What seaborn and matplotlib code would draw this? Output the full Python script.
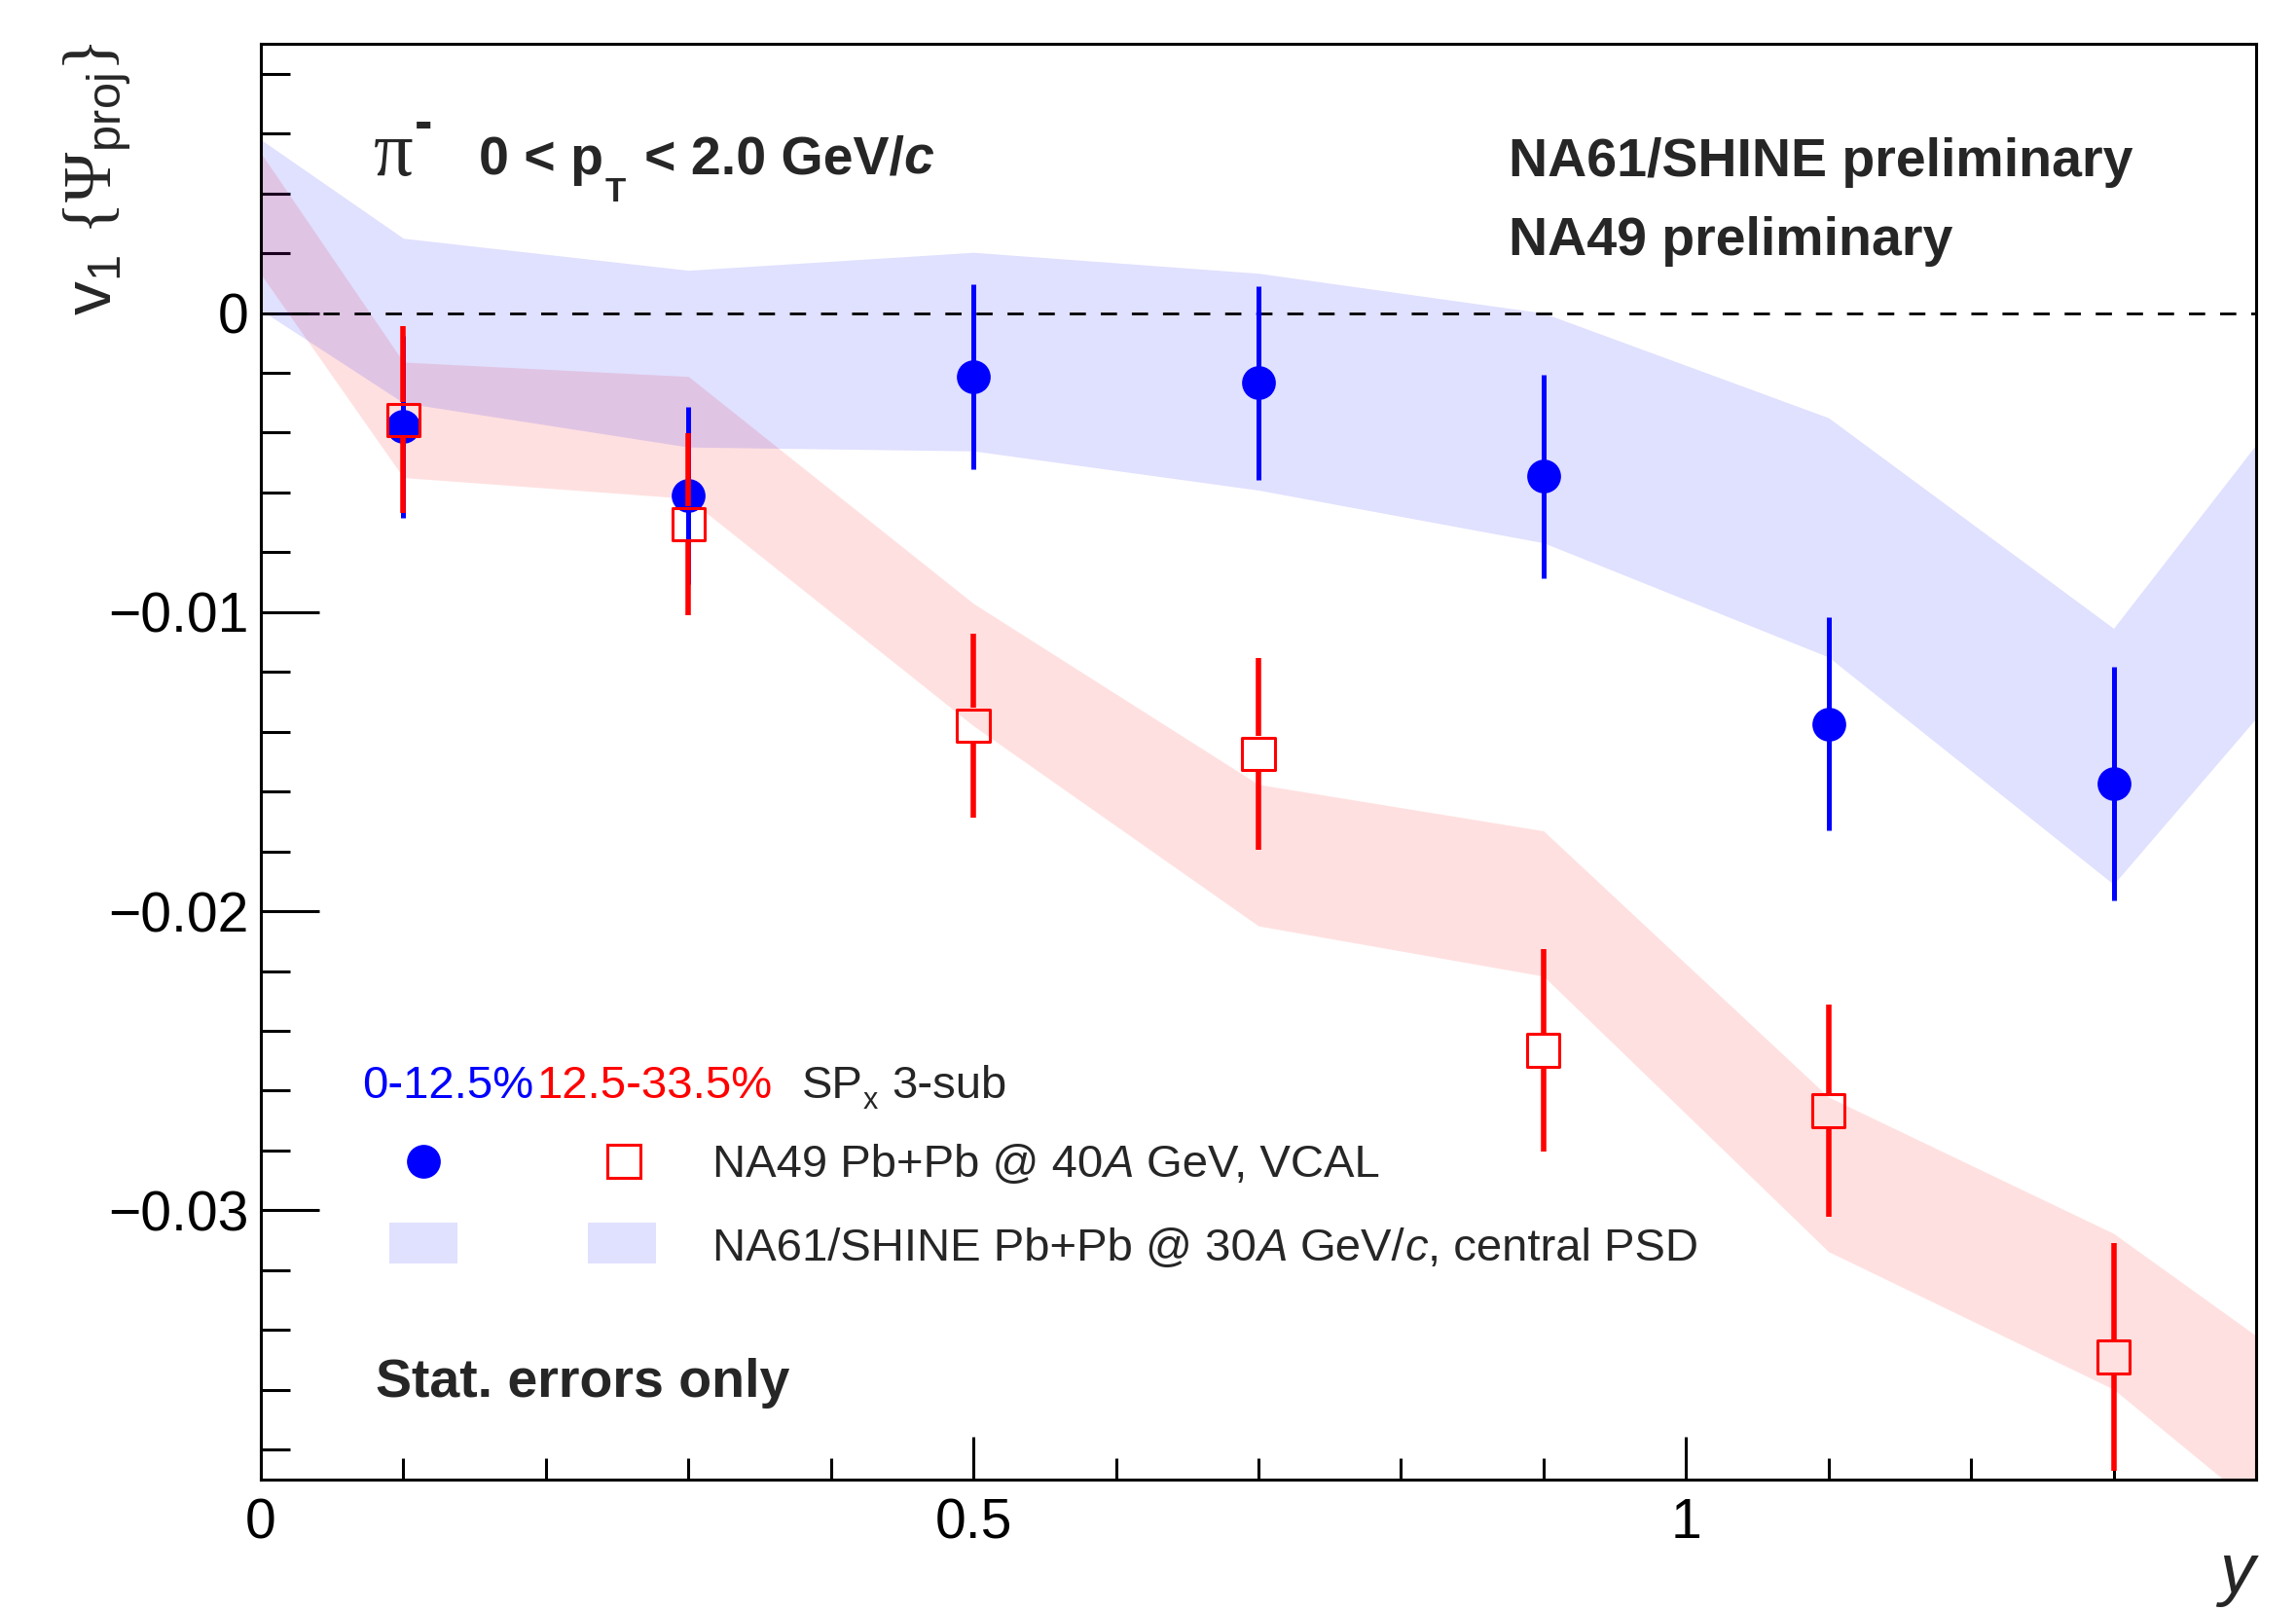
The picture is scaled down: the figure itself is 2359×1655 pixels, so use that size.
import numpy as np
import matplotlib
matplotlib.use("Agg")
import matplotlib.pyplot as plt
import seaborn as sns
from matplotlib.lines import Line2D
from matplotlib.patches import Rectangle
from matplotlib.ticker import MultipleLocator, FuncFormatter

# ------- DATA -------------------------------
rapidity = [0.1, 0.3, 0.5, 0.7, 0.9, 1.1, 1.3]

# NA49 Pb+Pb @ 40A GeV, VCAL (points, stat. errors)
v1_central = [-0.0038, -0.0061, -0.00214, -0.00233, -0.00546, -0.01374, -0.01574]   # 0-12.5%
err_central = [0.00305, 0.00296, 0.00309, 0.00324, 0.0034, 0.00357, 0.0039]
v1_midcentral = [-0.00357, -0.00705, -0.0138, -0.01473, -0.02465, -0.02667, -0.0349]  # 12.5-33.5%
err_midcentral = [0.00312, 0.00304, 0.00307, 0.0032, 0.00337, 0.00356, 0.0038]

# NA61/SHINE Pb+Pb @ 30A GeV/c, central PSD (bands)
band_rapidity = [0.0, 0.1, 0.3, 0.5, 0.7, 0.9, 1.1, 1.3, 1.4]
band_central_hi = [0.0058, 0.0025, 0.00143, 0.00203, 0.00133, 0.0, -0.0035, -0.01054, -0.0044]
band_central_lo = [0.0001, -0.003, -0.00448, -0.00461, -0.00592, -0.00768, -0.0115, -0.0191, -0.01355]
band_mid_hi = [0.00535, -0.00164, -0.00212, -0.00971, -0.01576, -0.01731, -0.02621, -0.03077, -0.03419]
band_mid_lo = [0.0013, -0.0055, -0.0062, -0.0138, -0.02049, -0.02217, -0.03138, -0.03598, -0.0399]

# ------- STYLE ---------
sns.set_theme(style="ticks")
plt.rcParams['font.family'] = ['Liberation Sans', 'DejaVu Sans']
plt.rcParams['mathtext.fontset'] = 'custom'
plt.rcParams['mathtext.rm'] = 'Liberation Sans'
plt.rcParams['mathtext.it'] = 'Liberation Sans:italic'
plt.rcParams['mathtext.bf'] = 'Liberation Sans:bold'
plt.rcParams['mathtext.sf'] = 'Liberation Serif'

BLUE = (0, 0, 1)
RED = (1, 0, 0)
BAND_ALPHA = 0.12
SQ_GAP = 0.0006  # error bar stops at the edge of the open square

fig = plt.figure(figsize=(23.59, 16.55), dpi=100)
ax = fig.add_axes([0.1136, 0.0816, 0.869, 0.8912])

# ------- BANDS ---------
ax.fill_between(band_rapidity, band_mid_lo, band_mid_hi, color=RED, alpha=BAND_ALPHA, lw=0, zorder=1)
ax.fill_between(band_rapidity, band_central_lo, band_central_hi, color=BLUE, alpha=BAND_ALPHA, lw=0, zorder=1)

ax.axhline(0, color='black', lw=2, ls=(0, (6, 5.5)), zorder=2)

# ------- POINTS ---------
x = np.array(rapidity)
yc, ec = np.array(v1_central), np.array(err_central)
ym, em = np.array(v1_midcentral), np.array(err_midcentral)

ax.vlines(x, yc - ec, yc + ec, color=BLUE, lw=3.6, zorder=3)
sns.scatterplot(x=x, y=yc, marker='o', s=625, color=BLUE, edgecolor=BLUE, linewidth=0, zorder=4, ax=ax)

ax.vlines(x, ym + SQ_GAP, ym + em, color=RED, lw=4.0, zorder=5)
ax.vlines(x, ym - em, ym - SQ_GAP, color=RED, lw=4.0, zorder=5)
sns.scatterplot(x=x, y=ym, marker='s', s=576, color=RED, facecolor='none', edgecolor=RED,
                linewidth=2.2, zorder=6, ax=ax)

# ------- AXES ---------
ax.set_xlim(0, 1.4)
ax.set_ylim(-0.039, 0.009)
ax.set_xlabel("")
ax.set_ylabel("")
ax.xaxis.set_major_locator(MultipleLocator(0.5))
ax.xaxis.set_minor_locator(MultipleLocator(0.1))
ax.yaxis.set_major_locator(MultipleLocator(0.01))
ax.yaxis.set_minor_locator(MultipleLocator(0.002))
fmt = FuncFormatter(lambda v, p: f"{v:g}".replace('-', '\u2212'))
ax.xaxis.set_major_formatter(fmt)
ax.yaxis.set_major_formatter(fmt)

ax.tick_params(axis='both', which='both', direction='in', top=False, right=False,
               width=2.2, labelsize=41, colors='black')
ax.tick_params(axis='x', which='major', length=32, pad=13)
ax.tick_params(axis='x', which='minor', length=16)
ax.tick_params(axis='y', which='major', length=43, pad=9)
ax.tick_params(axis='y', which='minor', length=21.6)
for sp in ax.spines.values():
    sp.set_visible(True)
    sp.set_linewidth(2.2)
    sp.set_color('black')

fig.text(0.0425, 0.974,
         r"$\mathrm{v}_{1}\ \mathsf{\{\Psi}_{\mathrm{proj}}\mathsf{\}}$",
         rotation=90, ha='center', va='top', fontsize=50)
fig.text(0.9818, 0.0115, "y", style='italic', ha='right', va='baseline', fontsize=52)


# ------- TEXT ---------
def text_run(x0, y0, pieces):
    """First piece at (x0, y0) baseline, the rest chained to the right."""
    s, kw = pieces[0]
    base = fig.text(x0, y0, s, va='baseline', **kw)
    prev = base
    for s, kw, dx, dy in [p if len(p) == 4 else (p[0], p[1], 0, 0) for p in pieces[1:]]:
        t = ax.annotate(s, xy=(1, 0), xycoords=(prev, base), xytext=(dx, dy),
                        textcoords='offset points', ha='left', va='bottom',
                        annotation_clip=False, **kw)
        prev = t
    return base


bold40 = dict(fontsize=40, fontweight='bold')
fig.text(0.1628, 0.8912, "\u03c0", family='Liberation Serif', fontsize=58, va='baseline')
fig.text(0.1806, 0.9136, "-", fontsize=40, fontweight='bold', va='baseline')
text_run(0.2086, 0.8921, [
    ("0 < p", bold40),
    ("T", dict(fontsize=25, fontweight='bold'), 1, -17),
    ("< 2.0 GeV/", bold40, 13.7, 0),
    ("c", dict(fontsize=40, fontweight='bold', style='italic'), 0, 0),
])

fig.text(0.6571, 0.8909, "NA61/SHINE preliminary", **bold40)
fig.text(0.6571, 0.8417, "NA49 preliminary", **bold40)
fig.text(0.1636, 0.1329, "Stat. errors only", **bold40)

reg34 = dict(fontsize=34)
it34 = dict(fontsize=34, style='italic')
fig.text(0.1577, 0.3184, "0-12.5%", color=BLUE, **reg34)
fig.text(0.2336, 0.3184, "12.5-33.5%", color=RED, **reg34)
text_run(0.3493, 0.3184, [
    ("SP", reg34),
    ("x", dict(fontsize=22), 0, -5.5),
    ("3-sub", reg34, 10, 0),
])
text_run(0.3103, 0.2695, [
    ("NA49 Pb+Pb @ 40", reg34),
    ("A", it34, 0, 0),
    ("GeV, VCAL", reg34, 9.5, 0),
])
text_run(0.3103, 0.2175, [
    ("NA61/SHINE Pb+Pb @ 30", reg34),
    ("A", it34, 0, 0),
    ("GeV/", reg34, 9.5, 0),
    ("c", it34, 0, 0),
    (", central PSD", reg34, 0, 0),
])

# legend markers
fig.add_artist(Line2D([0.1844], [0.2792], marker='o', ms=25, color=BLUE, mew=0, ls='none',
                      transform=fig.transFigure))
fig.add_artist(Line2D([0.2717], [0.2792], marker='s', ms=24, mfc='none', mec=RED, mew=2.2,
                      ls='none', transform=fig.transFigure))
for x_box in (0.1696, 0.2560):
    fig.add_artist(Rectangle((x_box, 0.2157), 0.0297, 0.0254, facecolor=BLUE, alpha=BAND_ALPHA,
                             lw=0, transform=fig.transFigure))

fig.savefig("out.png", dpi=100)
